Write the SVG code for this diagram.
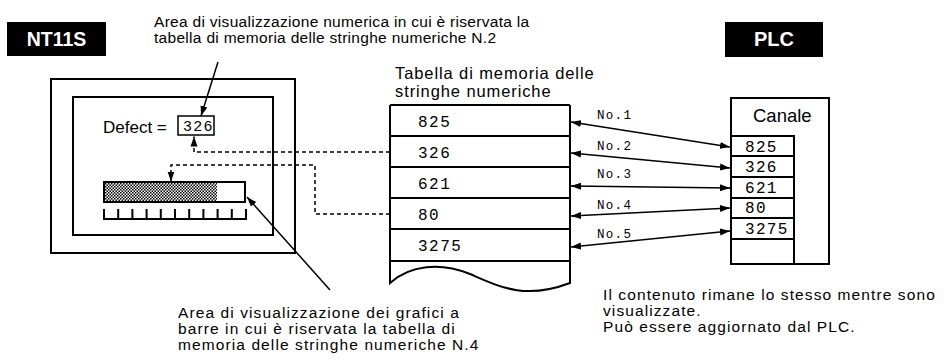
<svg xmlns="http://www.w3.org/2000/svg" width="949" height="362" viewBox="0 0 949 362">
<style>
.s{font-family:"Liberation Sans",Arial,sans-serif;fill:#000}
.m{font-family:"Liberation Mono","Courier New",monospace;fill:#000}
.ln{fill:none;stroke:#000;stroke-width:2}
.th{fill:none;stroke:#000;stroke-width:1.5}
.ds{fill:none;stroke:#000;stroke-width:1.5;stroke-dasharray:4 3}
.hd{font-family:"Liberation Sans",Arial,sans-serif;font-weight:bold;fill:#fff}
</style>
<defs>
<marker id="ah" markerWidth="11" markerHeight="8" refX="10" refY="4" orient="auto-start-reverse" markerUnits="userSpaceOnUse">
<path d="M0,0.5 L10,4 L0,7.5 Z" fill="#000"/>
</marker>
<pattern id="chk" width="3" height="3" patternUnits="userSpaceOnUse">
<rect width="3" height="3" fill="#fff"/>
<rect width="1.5" height="1.5" fill="#000"/>
<rect x="1.5" y="1.5" width="1.5" height="1.5" fill="#000"/>
</pattern>
</defs>

<g id="nt11s-label">
<rect x="7" y="22" width="99" height="34" fill="#000"/>
<text class="hd" x="56.5" y="46" font-size="19.5" text-anchor="middle">NT11S</text>
</g>

<g id="plc-label">
<rect x="725" y="22" width="98" height="35" fill="#000"/>
<text class="hd" x="774" y="46" font-size="20" text-anchor="middle">PLC</text>
</g>

<g id="top-note">
<text class="s" font-size="15.5" letter-spacing="0.3" x="154" y="27">Area di visualizzazione numerica in cui è riservata la</text>
<text class="s" font-size="15.5" letter-spacing="0.3" x="154" y="43">tabella di memoria delle stringhe numeriche N.2</text>
</g>

<g id="nt11s-screen">
<rect class="ln" x="51" y="79" width="244" height="174"/>
<rect class="ln" x="73" y="97" width="200" height="138"/>
<text class="s" font-size="17" x="103" y="133">Defect =</text>
<rect class="th" x="178" y="116" width="36" height="19" fill="#fff"/>
<text class="m" font-size="15" letter-spacing="1.3" x="183" y="131">326</text>
</g>

<g id="bar-graph">
<rect x="104" y="182" width="141" height="20" fill="#fff" stroke="#000" stroke-width="2"/>
<rect x="105" y="183" width="112" height="18" fill="url(#chk)"/>
<path class="ln" d="M104,209 V219 H246 V209 M118.2,219 V209 M132.4,219 V209 M146.6,219 V209 M160.8,219 V209 M175,219 V209 M189.2,219 V209 M203.4,219 V209 M217.6,219 V209 M231.8,219 V209"/>
</g>

<g id="memory-table">
<text class="s" font-size="16.5" letter-spacing="0.9" x="395" y="79">Tabella di memoria delle</text>
<text class="s" font-size="16.5" letter-spacing="0.9" x="395" y="97">stringhe numeriche</text>
<path class="ln" d="M390,105 H570 M390,136 H570 M390,167 H570 M390,198 H570 M390,229 H570 M390,261 H570"/>
<path class="ln" d="M390,105 V283 C410,265 440,262 470,274 C500,287 525,300 570,283 V105"/>
<text class="m" font-size="16" letter-spacing="1.5" x="418" y="127">825</text>
<text class="m" font-size="16" letter-spacing="1.5" x="418" y="158">326</text>
<text class="m" font-size="16" letter-spacing="1.5" x="418" y="189">621</text>
<text class="m" font-size="16" letter-spacing="1.5" x="418" y="220">80</text>
<text class="m" font-size="16" letter-spacing="1.5" x="418" y="251">3275</text>
</g>

<g id="plc-channel">
<rect class="ln" x="731" y="98" width="98" height="166"/>
<text class="s" font-size="18.5" x="753" y="122">Canale</text>
<path class="ln" d="M731,136 H794 V264 M731,156 H794 M731,177 H794 M731,198 H794 M731,218 H794 M731,239 H794"/>
<text class="m" font-size="16" letter-spacing="1.3" x="745" y="152">825</text>
<text class="m" font-size="16" letter-spacing="1.3" x="745" y="172">326</text>
<text class="m" font-size="16" letter-spacing="1.3" x="745" y="193">621</text>
<text class="m" font-size="16" letter-spacing="1.3" x="745" y="213">80</text>
<text class="m" font-size="16" letter-spacing="1.3" x="745" y="234">3275</text>
</g>

<g id="bottom-left-note">
<text class="s" font-size="15.5" letter-spacing="1.1" x="178" y="318">Area di visualizzazione dei grafici a</text>
<text class="s" font-size="15.5" letter-spacing="1.1" x="178" y="334">barre in cui è riservata la tabella di</text>
<text class="s" font-size="15.5" letter-spacing="1.1" x="178" y="350">memoria delle stringhe numeriche N.4</text>
</g>

<g id="bottom-right-note">
<text class="s" font-size="15.5" letter-spacing="1.1" x="603" y="300">Il contenuto rimane lo stesso mentre sono</text>
<text class="s" font-size="15.5" letter-spacing="1.1" x="603" y="316">visualizzate.</text>
<text class="s" font-size="15.5" letter-spacing="1.1" x="603" y="332">Può essere aggiornato dal PLC.</text>
</g>

<g id="connectors">
<path class="th" d="M218,62 L201,116" marker-end="url(#ah)"/>
<path class="th" d="M330,290 L247,197" marker-end="url(#ah)"/>
<path class="ds" d="M390,152 H194 V136.5" marker-end="url(#ah)"/>
<path class="ds" d="M390,214 H315 V165 H171 V181.5" marker-end="url(#ah)"/>
<path class="th" d="M571,122 L730,147" marker-start="url(#ah)" marker-end="url(#ah)"/>
<path class="th" d="M571,153 L730,168" marker-start="url(#ah)" marker-end="url(#ah)"/>
<path class="th" d="M571,186 L730,188" marker-start="url(#ah)" marker-end="url(#ah)"/>
<path class="th" d="M571,216 L730,208" marker-start="url(#ah)" marker-end="url(#ah)"/>
<path class="th" d="M571,247 L730,231" marker-start="url(#ah)" marker-end="url(#ah)"/>
<text class="m" font-size="12.5" letter-spacing="1.3" x="597" y="119">No.1</text>
<text class="m" font-size="12.5" letter-spacing="1.3" x="597" y="150">No.2</text>
<text class="m" font-size="12.5" letter-spacing="1.3" x="597" y="178">No.3</text>
<text class="m" font-size="12.5" letter-spacing="1.3" x="597" y="209">No.4</text>
<text class="m" font-size="12.5" letter-spacing="1.3" x="597" y="238">No.5</text>
</g>
</svg>
